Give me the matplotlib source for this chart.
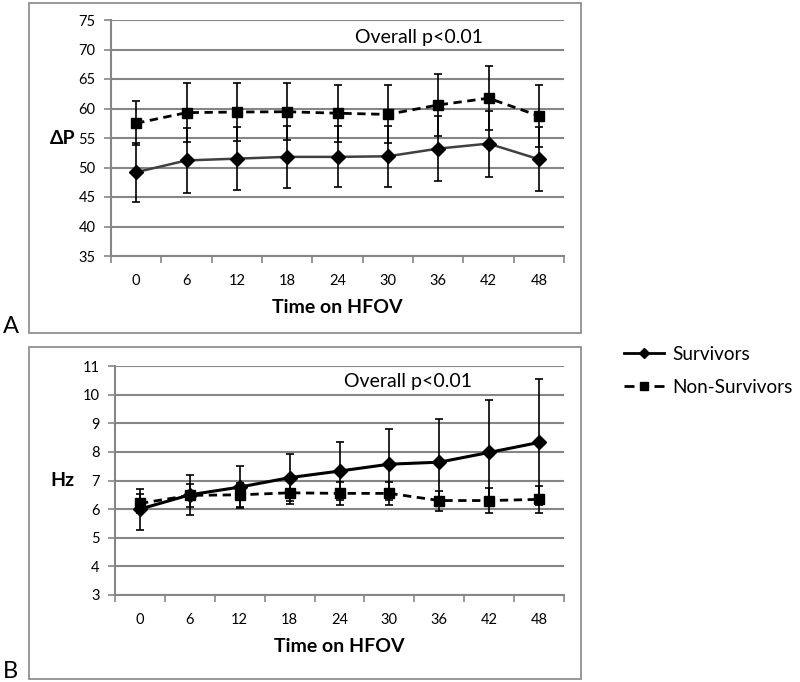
import numpy as np
import matplotlib
matplotlib.use("Agg")
import matplotlib.pyplot as plt
from matplotlib.patches import Rectangle
from matplotlib.lines import Line2D

plt.rcParams['font.family'] = ['Lato', 'DejaVu Sans']

# Datos
horas = ["0", "6", "12", "18", "24", "30", "36", "42", "48"]

# Panel A: ΔP
dp_surv = [49.2, 51.2, 51.5, 51.8, 51.8, 51.9, 53.2, 54.05, 51.4]
dp_surv_err = [5.0, 5.45, 5.35, 5.25, 5.15, 5.15, 5.45, 5.6, 5.4]
dp_non = [57.5, 59.3, 59.4, 59.45, 59.2, 59.0, 60.6, 61.75, 58.75]
dp_non_err = [3.75, 4.95, 4.95, 4.8, 4.8, 4.9, 5.3, 5.4, 5.25]

# Panel B: Hz
hz_surv = [6.0, 6.5, 6.77, 7.1, 7.33, 7.57, 7.64, 7.98, 8.33]
hz_surv_err = [0.72, 0.69, 0.72, 0.83, 1.0, 1.24, 1.52, 1.83, 2.2]
hz_non = [6.2, 6.48, 6.5, 6.57, 6.55, 6.55, 6.3, 6.3, 6.34]
hz_non_err = [0.32, 0.39, 0.43, 0.4, 0.4, 0.39, 0.35, 0.43, 0.46]

W, H = 800, 682
gris = "#868686"

fig = plt.figure(figsize=(W / 100, H / 100), dpi=100)


def caja(x0, y0, x1, y1):
    fig.add_artist(Rectangle((x0 / W, 1 - y1 / H), (x1 - x0) / W, (y1 - y0) / H,
                             transform=fig.transFigure, fill=False,
                             edgecolor=gris, lw=1.2))


def panel(rect, surv, surv_err, non, non_err, ylim, paso, etiqueta, col_surv, lw_surv):
    x0, y0, x1, y1 = rect
    ax = fig.add_axes([x0 / W, 1 - y1 / H, (x1 - x0) / W, (y1 - y0) / H])
    x = np.arange(len(horas))
    ax.errorbar(x, non, yerr=non_err, color="black", ecolor="black", elinewidth=1.2,
                capsize=3, capthick=1.2, lw=2, ls=(0, (3, 2)), marker="s",
                markersize=7, zorder=3)
    ax.errorbar(x, surv, yerr=surv_err, color=col_surv, ecolor="black", elinewidth=1.2,
                capsize=3, capthick=1.2, lw=lw_surv, marker="D", mfc="black",
                mec="black", markersize=7.5, zorder=4)
    ax.set_xlim(-0.5, len(horas) - 0.5)
    ax.set_ylim(*ylim)
    ax.set_yticks(np.arange(ylim[0], ylim[1] + paso / 2, paso))
    ax.set_xticks(x)
    ax.set_xticklabels(horas)
    ax.set_xticks(np.arange(-0.5, len(horas)), minor=True)
    ax.tick_params(axis="x", which="major", length=0, pad=13, labelsize=10.5)
    ax.tick_params(axis="x", which="minor", length=5, color=gris, direction="out", width=1.2)
    ax.tick_params(axis="y", length=5, color=gris, width=1.2, pad=6, labelsize=10.5)
    ax.grid(axis="y", color=gris, lw=1.5, zorder=0)
    ax.set_axisbelow(True)
    for s in ["top", "right"]:
        ax.spines[s].set_visible(False)
    for s in ["left", "bottom"]:
        ax.spines[s].set_color(gris)
        ax.spines[s].set_linewidth(1.5)
    ax.set_xlabel("Time on HFOV", fontsize=14, fontweight="bold", labelpad=8)
    ax.set_ylabel(etiqueta, fontsize=14, fontweight="bold", rotation=0,
                  ha="center", va="center")
    return ax


caja(29, 3, 581, 333)
caja(29, 347, 581, 679)

axA = panel((111, 20, 564, 256), dp_surv, dp_surv_err, dp_non, dp_non_err,
            (35, 75), 5, "ΔP", "#404040", 1.8)
axA.yaxis.set_label_coords(-0.106, 0.5)
axA.text(0.679, 0.924, "Overall p<0.01", transform=axA.transAxes, fontsize=14,
         ha="center", va="center")

axB = panel((115, 366, 564, 595), hz_surv, hz_surv_err, hz_non, hz_non_err,
            (3, 11), 1, "Hz", "black", 2.2)
axB.yaxis.set_label_coords(-0.118, 0.5)
axB.text(0.6526, 0.934, "Overall p<0.01", transform=axB.transAxes, fontsize=14,
         ha="center", va="center")

fig.text(3 / W, 1 - 333 / H, "A", fontsize=17, ha="left", va="baseline")
fig.text(3 / W, 1 - 678 / H, "B", fontsize=17, ha="left", va="baseline")

handles = [
    Line2D([], [], color="black", lw=2, marker="D", markersize=5),
    Line2D([], [], color="black", lw=2, ls=(0, (3.6, 7.2)), marker="s", markersize=6),
]
fig.legend(handles, ["Survivors", "Non-Survivors"], loc="upper left",
           bbox_to_anchor=(624 / W, 1 - 346 / H), frameon=False, fontsize=13.6,
           borderpad=0, borderaxespad=0, handlelength=2.1, handletextpad=0.45,
           labelspacing=0.85)

fig.savefig("out.png", dpi=100)
